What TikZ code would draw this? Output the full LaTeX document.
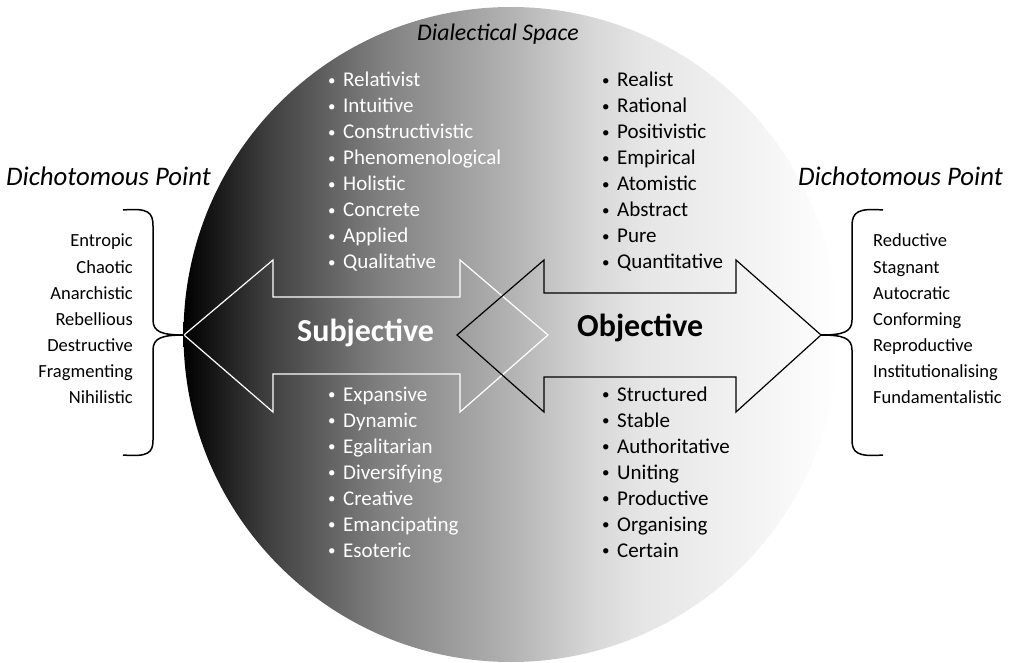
\documentclass[tikz,border=0pt]{standalone}
\usepackage{fontspec}
\setmainfont{Carlito}
\pgfdeclarehorizontalshading{circshade}{100bp}{color(0bp)=(black); color(25bp)=(black); color(31.5bp)=(black!75); color(40bp)=(black!50); color(50bp)=(black!30); color(56bp)=(black!16); color(60bp)=(black!10); color(68bp)=(black!5); color(75bp)=(white); color(100bp)=(white)}
\newcommand\mybul{\makebox[16pt][l]{\hspace{1pt}\raisebox{1.6pt}{\fontsize{15}{15}\selectfont •}}}
\begin{document}
\begin{tikzpicture}[x=1pt,y=-1pt,
  listw/.style={anchor=base west, text=white, font=\fontsize{21}{26}\selectfont, inner sep=0pt},
  listb/.style={anchor=base west, text=black, font=\fontsize{21}{26}\selectfont, inner sep=0pt},
  sidel/.style={anchor=base east, font=\fontsize{18.5}{26}\selectfont, inner sep=0pt},
  sider/.style={anchor=base west, font=\fontsize{18.5}{26}\selectfont, inner sep=0pt},
  heading/.style={anchor=base west, font=\fontsize{26.8}{30}\selectfont\itshape, inner sep=0pt},
  topheading/.style={anchor=base west, font=\fontsize{23.8}{30}\selectfont\itshape, inner sep=0pt},
  bigw/.style={anchor=base west, font=\fontsize{32}{38}\selectfont\bfseries, inner sep=0pt, text=white},
  bigb/.style={anchor=base west, font=\fontsize{32}{38}\selectfont\bfseries, inner sep=0pt, text=black},
  warrow/.style={draw=white, line width=1.2pt, line join=miter},
  barrow/.style={draw=black, line width=1.2pt, line join=miter},
  bracestyle/.style={draw=black, line width=1.5pt}]
\useasboundingbox (0,0) rectangle (1015,663);
% dialectical space circle
\shade[shading=circshade] (511,334.5) circle (327.5pt);
% coordinates of arrow tips
\coordinate (ltip) at (184,335);
\coordinate (rtip) at (821,335);
% white double arrow
\draw[warrow] (ltip) -- (273,260) -- (273,297) -- (460,297) -- (460,260) -- (548,335) -- (460,412) -- (460,374) -- (273,374) -- (273,412) -- cycle;
% black double arrow
\draw[barrow] (457,335) -- (544,260) -- (544,293) -- (736,293) -- (736,260) -- (rtip) -- (736,412) -- (736,377) -- (544,377) -- (544,412) -- cycle;
% braces
\draw[bracestyle] (123,210) .. controls (148,208) and (153,212) .. (153,226) -- (153,320) .. controls (153,332) and (162,335) .. (ltip) .. controls (162,335) and (153,338) .. (153,350) -- (153,440) .. controls (153,453) and (148,457) .. (123,455);
\draw[bracestyle] (883,210) .. controls (858,208) and (852,212) .. (852,226) -- (852,320) .. controls (852,332) and (843,335) .. (rtip) .. controls (843,335) and (852,338) .. (852,350) -- (852,440) .. controls (852,453) and (858,457) .. (883,455);
% headings
\node[topheading] (dsp) at (417,41) {Dialectical Space};
\node[heading] (dpl) at (6,186) {Dichotomous Point};
\node[heading] (dpr) at (798,186) {Dichotomous Point};
\node[bigw] (subj) at (297,341) {Subjective};
\node[bigb] (obj) at (577,336) {Objective};
% lists
\foreach \t [count=\i from 0] in {Relativist,Intuitive,Constructivistic,Phenomenological,Holistic,Concrete,Applied,Qualitative}
  \node[listw] (lt\i) at (327,{87+26*\i}) {\mybul\t};
\foreach \t [count=\i from 0] in {Realist,Rational,Positivistic,Empirical,Atomistic,Abstract,Pure,Quantitative}
  \node[listb] (rt\i) at (601,{87+26*\i}) {\mybul\t};
\foreach \t [count=\i from 0] in {Expansive,Dynamic,Egalitarian,Diversifying,Creative,Emancipating,Esoteric}
  \node[listw] (lb\i) at (327,{401+26*\i}) {\mybul\t};
\foreach \t [count=\i from 0] in {Structured,Stable,Authoritative,Uniting,Productive,Organising,Certain}
  \node[listb] (rb\i) at (601,{401+26*\i}) {\mybul\t};
\foreach \t [count=\i from 0] in {Entropic,Chaotic,Anarchistic,Rebellious,Destructive,Fragmenting,Nihilistic}
  \node[sidel] (sl\i) at (133,{247+26*\i}) {\t};
\foreach \t [count=\i from 0] in {Reductive,Stagnant,Autocratic,Conforming,Reproductive,Institutionalising,Fundamentalistic}
  \node[sider] (sr\i) at (873,{247+26*\i}) {\t};
\end{tikzpicture}
\end{document}
